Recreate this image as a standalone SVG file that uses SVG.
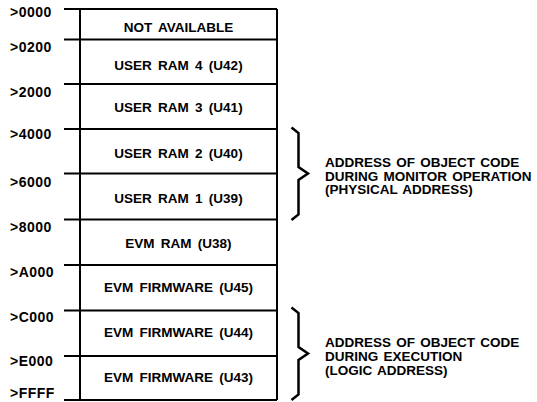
<svg xmlns="http://www.w3.org/2000/svg" width="537" height="402" viewBox="0 0 537 402">
  <style>
    .rule { stroke: #000; stroke-width: 2; fill: none; }
    .brace { stroke: #000; stroke-width: 2.5; fill: none; stroke-linejoin: miter; }
    text { font-family: "Liberation Sans", Arial, Helvetica, sans-serif; font-weight: bold; fill: #000; }
    .addr { font-size: 14px; letter-spacing: 0.5px; }
    .blk { font-size: 13.5px; word-spacing: 2.5px; text-anchor: middle; }
    .note { font-size: 13.5px; word-spacing: 1.5px; }
  </style>

  <rect width="537" height="402" fill="#fff"/>

  <!-- memory map frame: side walls -->
  <g id="frame">
    <line class="rule" x1="80" y1="9" x2="80" y2="400"/>
    <line class="rule" x1="277" y1="9" x2="277" y2="400"/>
  </g>

  <!-- address boundary ticks -->
  <g id="boundaries">
    <line class="rule" x1="64" y1="9" x2="277" y2="9"/>
    <line class="rule" x1="64" y1="39.5" x2="277" y2="39.5"/>
    <line class="rule" x1="64" y1="84" x2="277" y2="84"/>
    <line class="rule" x1="64" y1="129" x2="277" y2="129"/>
    <line class="rule" x1="64" y1="173.5" x2="277" y2="173.5"/>
    <line class="rule" x1="64" y1="219.5" x2="277" y2="219.5"/>
    <line class="rule" x1="64" y1="265" x2="277" y2="265"/>
    <line class="rule" x1="64" y1="310.5" x2="277" y2="310.5"/>
    <line class="rule" x1="64" y1="356" x2="277" y2="356"/>
    <line class="rule" x1="64" y1="400" x2="277" y2="400"/>
  </g>

  <!-- address labels -->
  <g id="addresses">
    <text class="addr" x="10" y="17">&gt;0000</text>
    <text class="addr" x="10" y="51.5">&gt;0200</text>
    <text class="addr" x="10" y="96.5">&gt;2000</text>
    <text class="addr" x="10" y="138.5">&gt;4000</text>
    <text class="addr" x="10" y="186.5">&gt;6000</text>
    <text class="addr" x="10" y="231.5">&gt;8000</text>
    <text class="addr" x="10" y="276.5">&gt;A000</text>
    <text class="addr" x="10" y="321.5">&gt;C000</text>
    <text class="addr" x="10" y="366">&gt;E000</text>
    <text class="addr" x="10" y="397.5">&gt;FFFF</text>
  </g>

  <!-- memory blocks -->
  <g id="blk-not-available"><text class="blk" x="178.5" y="31.5">NOT AVAILABLE</text></g>
  <g id="blk-u42"><text class="blk" x="178.5" y="70">USER RAM 4 (U42)</text></g>
  <g id="blk-u41"><text class="blk" x="178.5" y="112">USER RAM 3 (U41)</text></g>
  <g id="blk-u40"><text class="blk" x="178.5" y="158">USER RAM 2 (U40)</text></g>
  <g id="blk-u39"><text class="blk" x="178.5" y="203">USER RAM 1 (U39)</text></g>
  <g id="blk-u38"><text class="blk" x="178.5" y="248">EVM RAM (U38)</text></g>
  <g id="blk-u45"><text class="blk" x="178.5" y="291.5">EVM FIRMWARE (U45)</text></g>
  <g id="blk-u44"><text class="blk" x="178.5" y="336.5">EVM FIRMWARE (U44)</text></g>
  <g id="blk-u43"><text class="blk" x="178.5" y="381.5">EVM FIRMWARE (U43)</text></g>

  <!-- braces grouping address ranges -->
  <g id="braces">
    <polyline class="brace" points="291.5,127.5 298.5,133 298.5,167 308,173.5 298.5,180 298.5,214.5 291.5,220"/>
    <polyline class="brace" points="291.5,307.5 298.5,313 298.5,347 308,353.5 298.5,360 298.5,394.5 291.5,400"/>
  </g>

  <!-- range notes -->
  <g id="note-monitor">
    <text class="note" x="325" y="166.5">ADDRESS OF OBJECT CODE</text>
    <text class="note" x="325" y="180.5">DURING MONITOR OPERATION</text>
    <text class="note" x="325" y="194">(PHYSICAL ADDRESS)</text>
  </g>
  <g id="note-execution">
    <text class="note" x="325" y="347">ADDRESS OF OBJECT CODE</text>
    <text class="note" x="325" y="361">DURING EXECUTION</text>
    <text class="note" x="325" y="374.5">(LOGIC ADDRESS)</text>
  </g>
</svg>
